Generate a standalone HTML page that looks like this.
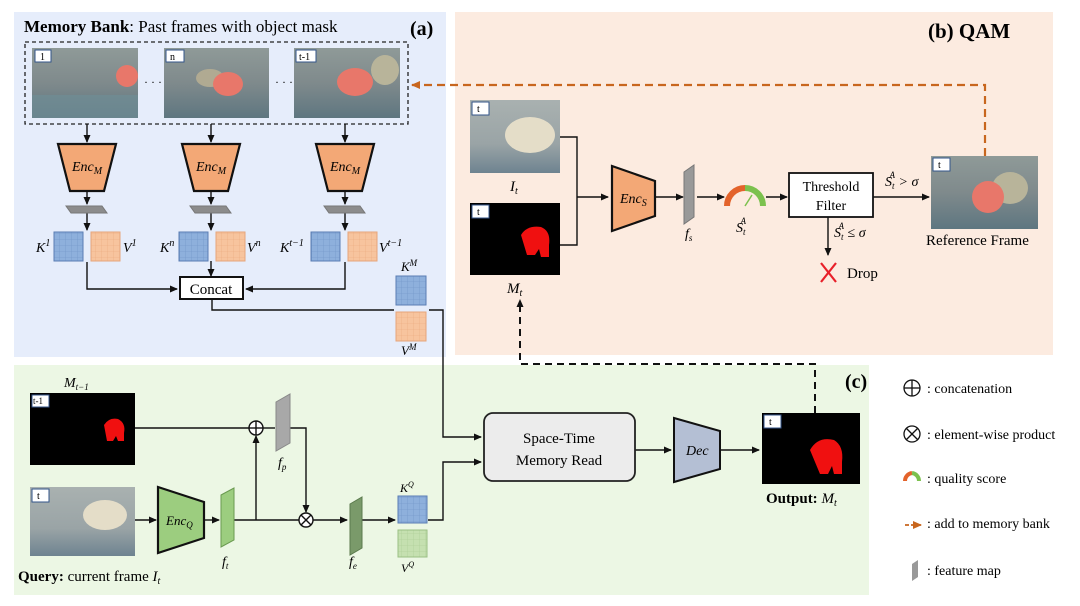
<!DOCTYPE html>
<html><head><meta charset="utf-8"><style>
html,body{margin:0;padding:0;background:#fff;}
svg{display:block;font-family:"Liberation Serif",serif;}
.it{font-style:italic}
</style></head><body>
<svg width="1080" height="606" viewBox="0 0 1080 606" xmlns="http://www.w3.org/2000/svg">
<defs>
<marker id="ar" markerWidth="8" markerHeight="8" refX="7" refY="4" orient="auto" markerUnits="userSpaceOnUse"><path d="M0,0.5 L8,4 L0,7.5 z" fill="#111"/></marker>
<marker id="ao" markerWidth="9" markerHeight="9" refX="8" refY="4.5" orient="auto" markerUnits="userSpaceOnUse"><path d="M0,0.5 L9,4.5 L0,8.5 z" fill="#c8661e"/></marker>
<pattern id="gb" width="6" height="6" patternUnits="userSpaceOnUse"><rect width="6" height="6" fill="#8eb0dc"/><path d="M6,0V6H0" fill="none" stroke="#6f93c6" stroke-width="0.6"/></pattern>
<pattern id="go" width="6" height="6" patternUnits="userSpaceOnUse"><rect width="6" height="6" fill="#f7c49e"/><path d="M6,0V6H0" fill="none" stroke="#eaa97c" stroke-width="0.6"/></pattern>
<pattern id="gg" width="6" height="6" patternUnits="userSpaceOnUse"><rect width="6" height="6" fill="#c5e0b0"/><path d="M6,0V6H0" fill="none" stroke="#a9cb92" stroke-width="0.6"/></pattern>
<linearGradient id="ph" x1="0" y1="0" x2="0" y2="1"><stop offset="0" stop-color="#8f9a98"/><stop offset="0.5" stop-color="#7f8a8c"/><stop offset="1" stop-color="#5e7680"/></linearGradient>
<linearGradient id="ph2" x1="0" y1="0" x2="0" y2="1"><stop offset="0" stop-color="#a9b1b0"/><stop offset="0.6" stop-color="#9aa4a6"/><stop offset="1" stop-color="#6e8390"/></linearGradient>
</defs>

<!-- panels -->
<rect x="14" y="12" width="432" height="345" fill="#e6edfb"/>
<rect x="455" y="12" width="598" height="343" fill="#fcebe0"/>
<rect x="14" y="365" width="855" height="230" fill="#ecf7e4"/>

<!-- (a) -->
<text x="24" y="32" font-size="17"><tspan font-weight="bold">Memory Bank</tspan>: Past frames with object mask</text>
<text x="410" y="35" font-size="20" font-weight="bold">(a)</text>
<rect x="25" y="42" width="383" height="82" fill="none" stroke="#222" stroke-width="1.3" stroke-dasharray="4,3"/>
<g>
<rect x="32" y="48" width="106" height="70" fill="url(#ph)"/>
<rect x="32" y="95" width="106" height="23" fill="#6f8d96" opacity="0.7"/>
<ellipse cx="127" cy="76" rx="11" ry="11" fill="#e8776a"/>
<rect x="35" y="50" width="16" height="12" fill="#fff" stroke="#33558a"/><text x="40" y="60" font-size="10">1</text>
</g>
<text x="144" y="86" font-size="12">· · ·</text>
<g>
<rect x="164" y="48" width="105" height="70" fill="url(#ph)"/>
<ellipse cx="210" cy="78" rx="14" ry="9" fill="#b0aa92"/>
<ellipse cx="228" cy="84" rx="15" ry="12" fill="#e8776a"/>
<rect x="166" y="50" width="18" height="12" fill="#fff" stroke="#33558a"/><text x="170" y="60" font-size="10">n</text>
</g>
<text x="275" y="86" font-size="12">· · ·</text>
<g>
<rect x="294" y="48" width="106" height="70" fill="url(#ph)"/>
<ellipse cx="385" cy="70" rx="14" ry="15" fill="#b8b49a"/>
<ellipse cx="355" cy="82" rx="18" ry="14" fill="#e8776a"/>
<rect x="296" y="50" width="20" height="12" fill="#fff" stroke="#33558a"/><text x="299" y="60" font-size="10">t-1</text>
</g>

<g id="encs" stroke="#111" stroke-width="1.4">
<line x1="87" y1="124" x2="87" y2="142" marker-end="url(#ar)"/>
<line x1="211" y1="124" x2="211" y2="142" marker-end="url(#ar)"/>
<line x1="345" y1="124" x2="345" y2="142" marker-end="url(#ar)"/>
</g>
<g stroke="#111" stroke-width="2.2" fill="#f3a876">
<polygon points="58,144 116,144 104,191 70,191"/>
<polygon points="182,144 240,144 228,191 194,191"/>
<polygon points="316,144 374,144 362,191 328,191"/>
</g>
<g font-size="14" class="it" text-anchor="middle">
<text x="87" y="171" class="it">Enc<tspan font-size="10" dy="3">M</tspan></text>
<text x="211" y="171" class="it">Enc<tspan font-size="10" dy="3">M</tspan></text>
<text x="345" y="171" class="it">Enc<tspan font-size="10" dy="3">M</tspan></text>
</g>
<g stroke="#111" stroke-width="1.4">
<line x1="87" y1="191" x2="87" y2="204" marker-end="url(#ar)"/>
<line x1="211" y1="191" x2="211" y2="204" marker-end="url(#ar)"/>
<line x1="345" y1="191" x2="345" y2="204" marker-end="url(#ar)"/>
<line x1="87" y1="213" x2="87" y2="230" marker-end="url(#ar)"/>
<line x1="211" y1="213" x2="211" y2="230" marker-end="url(#ar)"/>
<line x1="345" y1="213" x2="345" y2="230" marker-end="url(#ar)"/>
</g>
<g fill="#8c8c8c" stroke="#777">
<polygon points="66,206 102,206 107,213 71,213"/>
<polygon points="190,206 226,206 231,213 195,213"/>
<polygon points="324,206 360,206 365,213 329,213"/>
</g>
<g stroke="#5a7db3" stroke-width="1"><rect x="54" y="232" width="29" height="29" fill="url(#gb)"/><rect x="179" y="232" width="29" height="29" fill="url(#gb)"/><rect x="311" y="232" width="29" height="29" fill="url(#gb)"/></g>
<g stroke="#e6a57b" stroke-width="1"><rect x="91" y="232" width="29" height="29" fill="url(#go)"/><rect x="216" y="232" width="29" height="29" fill="url(#go)"/><rect x="348" y="232" width="29" height="29" fill="url(#go)"/></g>
<g font-size="14" class="it">
<text x="36" y="252">K<tspan font-size="10" dy="-6">1</tspan></text>
<text x="123" y="252">V<tspan font-size="10" dy="-6">1</tspan></text>
<text x="160" y="252">K<tspan font-size="10" dy="-6">n</tspan></text>
<text x="247" y="252">V<tspan font-size="10" dy="-6">n</tspan></text>
<text x="280" y="252">K<tspan font-size="10" dy="-6">t−1</tspan></text>
<text x="379" y="252">V<tspan font-size="10" dy="-6">t−1</tspan></text>
</g>
<rect x="180" y="277" width="63" height="22" fill="#fff" stroke="#111" stroke-width="2"/>
<text x="211" y="294" font-size="15" text-anchor="middle">Concat</text>
<g stroke="#111" stroke-width="1.4" fill="none">
<polyline points="87,262 87,289 177,289" marker-end="url(#ar)"/>
<polyline points="345,262 345,289 246,289" marker-end="url(#ar)"/>
<line x1="211" y1="261" x2="211" y2="276" marker-end="url(#ar)"/>
<polyline points="212,299 212,310 394,310"/>
<polyline points="429,310 443,310 443,437 481,437" marker-end="url(#ar)"/>
</g>
<rect x="396" y="276" width="30" height="29" fill="url(#gb)" stroke="#5a7db3"/>
<rect x="396" y="312" width="30" height="29" fill="url(#go)" stroke="#e6a57b"/>
<text x="401" y="271" font-size="13" class="it">K<tspan font-size="9" dy="-5">M</tspan></text>
<text x="401" y="355" font-size="13" class="it">V<tspan font-size="9" dy="-5">M</tspan></text>

<!-- (b) -->
<text x="928" y="38" font-size="21" font-weight="bold">(b) QAM</text>
<polyline points="985,156 985,85 412,85" fill="none" stroke="#c8661e" stroke-width="2.2" stroke-dasharray="8,5" marker-end="url(#ao)"/>
<rect x="470" y="100" width="90" height="73" fill="url(#ph2)"/>
<ellipse cx="530" cy="135" rx="25" ry="18" fill="#e4ddc8"/>
<rect x="472" y="102" width="17" height="13" fill="#fff" stroke="#33558a"/><text x="477" y="112" font-size="10">t</text>
<text x="510" y="191" font-size="15" class="it">I<tspan font-size="10" dy="3">t</tspan></text>
<rect x="470" y="203" width="90" height="72" fill="#000"/>
<path d="M521,235 q6,-10 20,-8 q10,4 8,18 l0,12 l-8,0 l-2,-8 l-4,6 l-8,0 z" fill="#f01010"/>
<rect x="472" y="205" width="17" height="13" fill="#fff" stroke="#33558a"/><text x="477" y="215" font-size="10">t</text>
<text x="507" y="293" font-size="15" class="it">M<tspan font-size="10" dy="3">t</tspan></text>
<g stroke="#111" stroke-width="1.4" fill="none">
<polyline points="560,137 577,137 577,245 560,245"/>
<line x1="577" y1="197" x2="608" y2="197" marker-end="url(#ar)"/>
<line x1="655" y1="197" x2="683" y2="197" marker-end="url(#ar)"/>
<line x1="697" y1="197" x2="724" y2="197" marker-end="url(#ar)"/>
<line x1="766" y1="197" x2="787" y2="197" marker-end="url(#ar)"/>
<line x1="873" y1="197" x2="929" y2="197" marker-end="url(#ar)"/>
<line x1="828" y1="217" x2="828" y2="255" marker-end="url(#ar)"/>
</g>
<polygon points="612,166 655,181 655,216 612,231" fill="#f3a876" stroke="#111" stroke-width="2.2"/>
<text x="620" y="203" font-size="14" class="it">Enc<tspan font-size="10" dy="3">S</tspan></text>
<polygon points="684,172 694,165 694,217 684,224" fill="#999" stroke="#777"/>
<text x="685" y="238" font-size="14" class="it">f<tspan font-size="9" dy="3">s</tspan></text>
<path d="M727,206 A18,18 0 0 1 745,188" fill="none" stroke="#e3632b" stroke-width="6"/>
<path d="M745,188 A18,18 0 0 1 763,206" fill="none" stroke="#7cc14e" stroke-width="6"/>
<line x1="745" y1="206" x2="752" y2="195" stroke="#7cc14e" stroke-width="1.5"/>
<text x="736" y="232" font-size="14" class="it">S<tspan font-size="9" dy="3">t</tspan><tspan font-size="9" dx="-5" dy="-11">A</tspan></text>
<rect x="789" y="173" width="84" height="44" fill="#fff" stroke="#111" stroke-width="1.8"/>
<text x="831" y="191" font-size="14" text-anchor="middle">Threshold</text>
<text x="831" y="210" font-size="14" text-anchor="middle">Filter</text>
<text x="885" y="186" font-size="14" class="it">S<tspan font-size="9" dy="3">t</tspan><tspan font-size="9" dx="-5" dy="-11">A</tspan><tspan dy="8"> &gt; σ</tspan></text>
<text x="834" y="237" font-size="14" class="it">S<tspan font-size="9" dy="3">t</tspan><tspan font-size="9" dx="-5" dy="-11">A</tspan><tspan dy="8">  ≤ σ</tspan></text>
<g stroke="#e8202a" stroke-width="2.2"><line x1="821" y1="263" x2="836" y2="282"/><line x1="836" y1="263" x2="821" y2="282"/></g>
<text x="847" y="278" font-size="15">Drop</text>
<rect x="931" y="156" width="107" height="73" fill="url(#ph)"/>
<ellipse cx="1010" cy="188" rx="18" ry="16" fill="#b8b49a"/>
<ellipse cx="988" cy="197" rx="16" ry="16" fill="#e8776a"/>
<rect x="933" y="158" width="17" height="13" fill="#fff" stroke="#33558a"/><text x="938" y="168" font-size="10">t</text>
<text x="926" y="245" font-size="15">Reference Frame</text>

<!-- (c) -->
<text x="845" y="388" font-size="20" font-weight="bold">(c)</text>
<polyline points="815,413 815,364 520,364 520,300" fill="none" stroke="#111" stroke-width="2" stroke-dasharray="7,5" marker-end="url(#ar)"/>
<text x="64" y="387" font-size="14" class="it">M<tspan font-size="9" dy="3">t−1</tspan></text>
<rect x="30" y="393" width="105" height="72" fill="#000"/>
<path d="M104,425 q5,-8 14,-6 q8,4 6,14 l0,8 l-6,0 l-2,-5 l-3,5 l-6,0 z" fill="#f01010"/>
<rect x="32" y="395" width="17" height="12" fill="#fff" stroke="#33558a"/><text x="33" y="404" font-size="9">t-1</text>
<rect x="30" y="487" width="105" height="69" fill="url(#ph2)"/>
<ellipse cx="105" cy="515" rx="22" ry="15" fill="#e4ddc8"/>
<rect x="32" y="489" width="17" height="13" fill="#fff" stroke="#33558a"/><text x="37" y="499" font-size="10">t</text>
<text x="18" y="581" font-size="15"><tspan font-weight="bold">Query:</tspan> current frame <tspan class="it">I<tspan font-size="10" dy="3">t</tspan></tspan></text>
<g stroke="#111" stroke-width="1.4" fill="none">
<line x1="135" y1="520" x2="156" y2="520" marker-end="url(#ar)"/>
<line x1="204" y1="520" x2="219" y2="520" marker-end="url(#ar)"/>
<line x1="234" y1="520" x2="300" y2="520"/>
<line x1="256" y1="520" x2="256" y2="436" marker-end="url(#ar)"/>
<line x1="135" y1="428" x2="249" y2="428"/>
<line x1="263" y1="428" x2="275" y2="428"/>
<polyline points="290,428 306,428 306,512" marker-end="url(#ar)"/>
<line x1="313" y1="520" x2="347" y2="520" marker-end="url(#ar)"/>
<line x1="362" y1="520" x2="395" y2="520" marker-end="url(#ar)"/>
<polyline points="428,520 443,520 443,462 481,462" marker-end="url(#ar)"/>
<line x1="635" y1="450" x2="671" y2="450" marker-end="url(#ar)"/>
<line x1="720" y1="450" x2="759" y2="450" marker-end="url(#ar)"/>
<circle cx="256" cy="428" r="7" fill="#fff"/>
<line x1="249" y1="428" x2="263" y2="428"/><line x1="256" y1="421" x2="256" y2="435"/>
<circle cx="306" cy="520" r="7" fill="#fff"/>
<line x1="301" y1="515" x2="311" y2="525"/><line x1="311" y1="515" x2="301" y2="525"/>
</g>
<polygon points="158,487 204,502 204,538 158,553" fill="#9ccd7f" stroke="#111" stroke-width="2.2"/>
<text x="166" y="525" font-size="13" class="it">Enc<tspan font-size="9" dy="3">Q</tspan></text>
<polygon points="221,495 234,488 234,540 221,547" fill="#9ccd7f" stroke="#6a9a50"/>
<text x="222" y="566" font-size="14" class="it">f<tspan font-size="9" dy="3">t</tspan></text>
<polygon points="276,402 290,394 290,443 276,451" fill="#a8a8a8" stroke="#888"/>
<text x="278" y="467" font-size="14" class="it">f<tspan font-size="9" dy="3">p</tspan></text>
<polygon points="350,504 362,497 362,548 350,555" fill="#7a9a6a" stroke="#5b7a4d"/>
<text x="349" y="566" font-size="14" class="it">f<tspan font-size="9" dy="3">e</tspan></text>
<rect x="398" y="496" width="29" height="27" fill="url(#gb)" stroke="#5a7db3"/>
<rect x="398" y="530" width="29" height="27" fill="url(#gg)" stroke="#9abf84"/>
<text x="400" y="492" font-size="12" class="it">K<tspan font-size="8" dy="-5">Q</tspan></text>
<text x="401" y="572" font-size="12" class="it">V<tspan font-size="8" dy="-5">Q</tspan></text>
<rect x="484" y="413" width="151" height="68" rx="9" fill="#ececec" stroke="#222" stroke-width="1.8"/>
<text x="559" y="443" font-size="15" text-anchor="middle">Space-Time</text>
<text x="559" y="465" font-size="15" text-anchor="middle">Memory Read</text>
<polygon points="674,418 720,431 720,469 674,482" fill="#b4bfd4" stroke="#111" stroke-width="2"/>
<text x="686" y="455" font-size="14" class="it">Dec</text>
<rect x="762" y="413" width="98" height="71" fill="#000"/>
<path d="M810,450 q8,-14 24,-10 q10,6 8,22 l0,12 l-8,0 l-2,-8 l-4,8 l-8,0 z" fill="#f01010"/>
<rect x="764" y="415" width="17" height="13" fill="#fff" stroke="#33558a"/><text x="769" y="425" font-size="10">t</text>
<text x="766" y="503" font-size="15"><tspan font-weight="bold">Output:</tspan> <tspan class="it">M<tspan font-size="10" dy="3">t</tspan></tspan></text>

<!-- legend -->
<g stroke="#111" stroke-width="1.3" fill="none">
<circle cx="912" cy="388" r="8"/><line x1="904" y1="388" x2="920" y2="388"/><line x1="912" y1="380" x2="912" y2="396"/>
<circle cx="912" cy="434" r="8"/><line x1="906" y1="428" x2="918" y2="440"/><line x1="918" y1="428" x2="906" y2="440"/>
</g>
<path d="M905,481 A8,8 0 0 1 912,473" fill="none" stroke="#e3632b" stroke-width="4"/>
<path d="M912,473 A8,8 0 0 1 919,481" fill="none" stroke="#7cc14e" stroke-width="4"/>
<line x1="905" y1="525" x2="921" y2="525" stroke="#c8661e" stroke-width="1.8" stroke-dasharray="4,2" marker-end="url(#ao)"/>
<polygon points="912,564 918,560 918,577 912,581" fill="#999"/>
<g font-size="14">
<text x="927" y="393">: concatenation</text>
<text x="927" y="439">: element-wise product</text>
<text x="927" y="483">: quality score</text>
<text x="927" y="528">: add to memory bank</text>
<text x="927" y="575">: feature map</text>
</g>
</svg>
</body></html>
